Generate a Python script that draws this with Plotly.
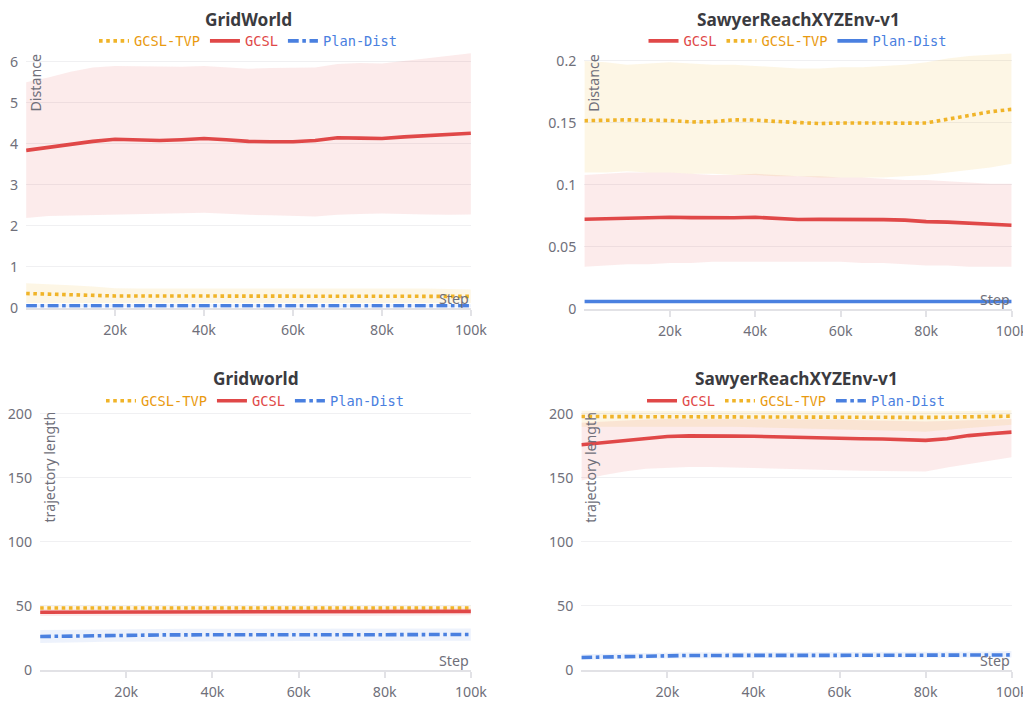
import plotly.graph_objects as go

# The page is photographed at ~0.985 scale with the default 8px body margin,
# so reference pixel p maps to figure pixel p / S - 8 (with a small vertical correction).
S = 0.985
PAGE_OFF = 8
W, H = 1036, 702
FS = 1 / S  # font compensation
Y_SHIFT, Y_SCALE = 4.2, 0.9967

steps = [0, 5000, 10000, 15000, 20000, 25000, 30000, 35000, 40000, 45000, 50000,
         55000, 60000, 65000, 70000, 75000, 80000, 85000, 90000, 95000, 100000]
xtick_vals = [20000, 40000, 60000, 80000, 100000]
xtick_text = ["20k", "40k", "60k", "80k", "100k"]

# ---- Panel A: GridWorld, Distance ----
a_gcsl = [3.84, 3.92, 3.99, 4.06, 4.11, 4.10, 4.08, 4.10, 4.13, 4.10, 4.06,
          4.05, 4.05, 4.08, 4.15, 4.14, 4.13, 4.17, 4.20, 4.22, 4.26]
a_gcsl_hi = [5.50, 5.62, 5.76, 5.86, 5.90, 5.89, 5.88, 5.88, 5.90, 5.87, 5.83,
             5.85, 5.85, 5.86, 5.95, 5.97, 5.96, 6.02, 6.08, 6.15, 6.21]
a_gcsl_lo = [2.19, 2.24, 2.26, 2.27, 2.28, 2.29, 2.30, 2.31, 2.32, 2.30, 2.27,
             2.26, 2.25, 2.23, 2.27, 2.29, 2.30, 2.29, 2.28, 2.27, 2.28]
a_tvp = [0.35, 0.33, 0.32, 0.30, 0.29, 0.29, 0.29, 0.29, 0.29, 0.29, 0.29,
         0.29, 0.29, 0.29, 0.29, 0.29, 0.29, 0.29, 0.29, 0.28, 0.28]
a_tvp_hi = [0.60, 0.58, 0.55, 0.52, 0.48, 0.47, 0.47, 0.48, 0.48, 0.47, 0.47,
            0.47, 0.48, 0.48, 0.47, 0.48, 0.48, 0.48, 0.47, 0.46, 0.45]
a_tvp_lo = [0.12, 0.12, 0.12, 0.12, 0.12, 0.12, 0.12, 0.12, 0.12, 0.12, 0.12,
            0.12, 0.12, 0.12, 0.12, 0.12, 0.12, 0.12, 0.12, 0.12, 0.12]
a_pd = [0.05, 0.05, 0.05, 0.05, 0.05, 0.05, 0.05, 0.05, 0.05, 0.05, 0.05,
        0.05, 0.05, 0.05, 0.05, 0.05, 0.05, 0.05, 0.05, 0.05, 0.05]
a_pd_hi = [0.09, 0.09, 0.09, 0.09, 0.09, 0.09, 0.09, 0.09, 0.09, 0.09, 0.09,
           0.09, 0.09, 0.09, 0.09, 0.09, 0.09, 0.09, 0.09, 0.09, 0.09]
a_pd_lo = [0.01, 0.01, 0.01, 0.01, 0.01, 0.01, 0.01, 0.01, 0.01, 0.01, 0.01,
           0.01, 0.01, 0.01, 0.01, 0.01, 0.01, 0.01, 0.01, 0.01, 0.01]

# ---- Panel B: SawyerReachXYZEnv-v1, Distance ----
b_gcsl = [0.0723, 0.0728, 0.0733, 0.0736, 0.0739, 0.0736, 0.0733, 0.0735, 0.0739, 0.0728, 0.0721,
          0.0722, 0.0723, 0.0721, 0.0720, 0.0716, 0.0704, 0.0700, 0.0690, 0.0680, 0.0674]
b_gcsl_hi = [0.108, 0.109, 0.110, 0.110, 0.110, 0.109, 0.108, 0.108, 0.109, 0.108, 0.107,
             0.107, 0.106, 0.106, 0.105, 0.104, 0.104, 0.103, 0.102, 0.101, 0.101]
b_gcsl_lo = [0.034, 0.035, 0.036, 0.036, 0.037, 0.037, 0.038, 0.038, 0.0385, 0.038, 0.038,
             0.038, 0.038, 0.037, 0.037, 0.036, 0.035, 0.035, 0.034, 0.034, 0.034]
b_tvp = [0.1518, 0.1522, 0.1525, 0.1522, 0.1520, 0.1508, 0.1510, 0.1525, 0.1523, 0.1512, 0.1500,
         0.1495, 0.1500, 0.1502, 0.1500, 0.1498, 0.1500, 0.1530, 0.1560, 0.1590, 0.1610]
b_tvp_hi = [0.200, 0.199, 0.197, 0.198, 0.199, 0.198, 0.197, 0.197, 0.196, 0.195, 0.194,
            0.194, 0.195, 0.195, 0.196, 0.197, 0.199, 0.202, 0.204, 0.205, 0.206]
b_tvp_lo = [0.110, 0.110, 0.111, 0.110, 0.110, 0.109, 0.109, 0.108, 0.108, 0.107, 0.107,
            0.106, 0.106, 0.106, 0.106, 0.107, 0.108, 0.110, 0.112, 0.114, 0.117]
b_pd = [0.006, 0.006, 0.006, 0.006, 0.006, 0.006, 0.006, 0.006, 0.006, 0.006, 0.006,
        0.006, 0.006, 0.006, 0.006, 0.006, 0.006, 0.006, 0.006, 0.006, 0.006]

# ---- Panel C: Gridworld, trajectory length ----
c_gcsl = [45.0, 45.0, 45.0, 45.0, 45.0, 45.0, 45.0, 45.0, 45.0, 45.0, 45.0,
          45.0, 45.0, 45.0, 45.0, 45.0, 45.0, 45.1, 45.2, 45.4, 45.6]
c_gcsl_hi = [47.5, 47.5, 47.5, 47.5, 47.5, 47.5, 47.5, 47.5, 47.5, 47.5, 47.5,
             47.5, 47.5, 47.5, 47.5, 47.5, 47.5, 47.6, 47.7, 47.9, 48.1]
c_gcsl_lo = [42.0, 42.0, 42.0, 42.0, 42.0, 42.0, 42.0, 42.0, 42.0, 42.0, 42.0,
             42.0, 42.0, 42.0, 42.0, 42.0, 42.0, 42.1, 42.2, 42.4, 42.6]
c_tvp = [48.3, 48.3, 48.3, 48.3, 48.3, 48.3, 48.3, 48.3, 48.3, 48.3, 48.3,
         48.3, 48.3, 48.3, 48.3, 48.3, 48.3, 48.3, 48.3, 48.3, 48.3]
c_tvp_hi = [50.0, 50.0, 50.0, 50.0, 50.0, 50.0, 50.0, 50.0, 50.0, 50.0, 50.0,
            50.0, 50.0, 50.0, 50.0, 50.0, 50.0, 50.0, 50.0, 50.0, 50.0]
c_tvp_lo = [47.0, 47.0, 47.0, 47.0, 47.0, 47.0, 47.0, 47.0, 47.0, 47.0, 47.0,
            47.0, 47.0, 47.0, 47.0, 47.0, 47.0, 47.0, 47.0, 47.0, 47.0]
c_pd = [26.0, 26.3, 26.6, 26.9, 27.1, 27.2, 27.3, 27.3, 27.4, 27.4, 27.4,
        27.4, 27.4, 27.4, 27.4, 27.4, 27.4, 27.4, 27.5, 27.5, 27.6]
c_pd_hi = [31.0, 31.2, 31.4, 31.6, 31.8, 31.9, 32.0, 32.0, 32.0, 32.0, 32.0,
           32.0, 32.0, 32.0, 32.0, 32.0, 32.0, 32.0, 32.1, 32.1, 32.2]
c_pd_lo = [21.0, 21.3, 21.6, 21.9, 22.1, 22.2, 22.3, 22.3, 22.4, 22.4, 22.4,
           22.4, 22.4, 22.4, 22.4, 22.4, 22.4, 22.4, 22.5, 22.5, 22.6]

# ---- Panel D: SawyerReachXYZEnv-v1, trajectory length ----
d_gcsl = [175.8, 177.5, 179.5, 181.0, 182.3, 182.8, 183.0, 182.6, 182.5, 182.0, 181.3,
          181.0, 180.8, 180.5, 180.3, 179.8, 179.3, 180.5, 183.0, 184.5, 185.7]
d_gcsl_hi = [193.0, 194.0, 195.0, 195.5, 196.0, 196.0, 196.0, 196.0, 196.0, 196.0, 195.5,
             195.5, 195.5, 195.0, 195.0, 194.5, 194.0, 194.5, 195.0, 195.5, 196.0]
d_gcsl_lo = [148.0, 152.0, 155.0, 157.0, 158.0, 158.5, 158.5, 158.0, 158.0, 157.5, 157.0,
             156.5, 156.0, 155.5, 155.5, 155.0, 155.0, 158.0, 161.0, 163.5, 166.0]
d_tvp = [197.9, 197.9, 197.8, 197.8, 197.8, 197.9, 197.9, 198.0, 197.9, 197.8, 197.8,
         197.7, 197.6, 197.5, 197.3, 197.2, 197.0, 197.3, 197.7, 198.0, 198.2]
d_tvp_hi = [202.5, 202.5, 202.4, 202.4, 202.4, 202.5, 202.5, 202.6, 202.5, 202.4, 202.4,
            202.3, 202.2, 202.1, 202.0, 201.9, 201.8, 202.0, 202.3, 202.6, 202.8]
d_tvp_lo = [190.0, 190.0, 189.5, 189.5, 189.5, 190.0, 190.0, 190.0, 189.5, 189.0, 189.0,
            188.5, 188.0, 187.5, 187.0, 186.5, 186.0, 187.5, 189.0, 190.5, 191.5]
d_pd = [9.6, 10.0, 10.4, 10.8, 11.0, 11.2, 11.2, 11.3, 11.3, 11.3, 11.3,
        11.3, 11.3, 11.3, 11.3, 11.3, 11.3, 11.3, 11.4, 11.5, 11.6]
d_pd_hi = [12.1, 12.5, 12.9, 13.3, 13.5, 13.7, 13.7, 13.8, 13.8, 13.8, 13.8,
           13.8, 13.8, 13.8, 13.8, 13.8, 13.8, 13.8, 13.9, 14.2, 14.6]
d_pd_lo = [7.6, 8.0, 8.4, 8.8, 9.0, 9.2, 9.2, 9.3, 9.3, 9.3, 9.3,
           9.3, 9.3, 9.3, 9.3, 9.3, 9.3, 9.3, 9.4, 9.5, 9.6]

RED = "#e04848"
YEL = "#f0b429"
BLU = "#4a80e0"
RED_F = "rgba(224,72,72,0.11)"
YEL_F = "rgba(240,180,41,0.12)"
BLU_F = "rgba(74,128,224,0.10)"
TXT_RED = "#e04848"
TXT_YEL = "#e99a10"
TXT_BLU = "#4a80e0"
TICK = "#6f6f7a"
MONO = "DejaVu Sans Mono"
SANS = "Noto Sans"


def px2x(p):
    return (p / S - PAGE_OFF) / W


def px2y(p):
    q = (p - Y_SHIFT) / Y_SCALE
    return 1 - (q / S - PAGE_OFF) / H


panels = [
    dict(ax="", x0=26, x1=471, yt=50, yb=308, yr=[0, 6.29],
         yv=[0, 1, 2, 3, 4, 5, 6], ytx=["0", "1", "2", "3", "4", "5", "6"],
         title="GridWorld", ytitle="Distance", leg="legend"),
    dict(ax="2", x0=584.5, x1=1012, yt=50, yb=309, yr=[0, 0.2089],
         yv=[0, 0.05, 0.1, 0.15, 0.2], ytx=["0", "0.05", "0.1", "0.15", "0.2"],
         title="SawyerReachXYZEnv-v1", ytitle="Distance", leg="legend2"),
    dict(ax="3", x0=40, x1=471, yt=407.6, yb=670, yr=[0, 205],
         yv=[0, 50, 100, 150, 200], ytx=["0", "50", "100", "150", "200"],
         title="Gridworld", ytitle="trajectory length", leg="legend3"),
    dict(ax="4", x0=581.5, x1=1012, yt=407.6, yb=670, yr=[0, 205],
         yv=[0, 50, 100, 150, 200], ytx=["0", "50", "100", "150", "200"],
         title="SawyerReachXYZEnv-v1", ytitle="trajectory length", leg="legend4"),
]

fig = go.Figure()


def band(ax, lo, hi, color):
    fig.add_trace(go.Scatter(
        x=steps + steps[::-1], y=hi + lo[::-1], fill="toself", fillcolor=color,
        line=dict(width=0), mode="lines", showlegend=False, hoverinfo="skip",
        xaxis="x" + ax, yaxis="y" + ax))


def line(ax, y, color, dash, name, tcolor, leg, width=3.6):
    fig.add_trace(go.Scatter(
        x=steps, y=y, mode="lines", line=dict(color=color, width=width, dash=dash),
        name="<span style='color:%s'>%s</span>" % (tcolor, name),
        legend=leg, xaxis="x" + ax, yaxis="y" + ax))


# Panel A
band("", a_gcsl_lo, a_gcsl_hi, RED_F)
band("", a_tvp_lo, a_tvp_hi, YEL_F)
band("", a_pd_lo, a_pd_hi, BLU_F)
line("", a_tvp, YEL, "dot", "GCSL-TVP", TXT_YEL, "legend")
line("", a_gcsl, RED, "solid", "GCSL", TXT_RED, "legend")
line("", a_pd, BLU, "dashdot", "Plan-Dist", TXT_BLU, "legend")

# Panel B
band("2", b_tvp_lo, b_tvp_hi, YEL_F)
band("2", b_gcsl_lo, b_gcsl_hi, RED_F)
line("2", b_gcsl, RED, "solid", "GCSL", TXT_RED, "legend2")
line("2", b_tvp, YEL, "dot", "GCSL-TVP", TXT_YEL, "legend2")
line("2", b_pd, BLU, "solid", "Plan-Dist", TXT_BLU, "legend2")

# Panel C
band("3", c_pd_lo, c_pd_hi, BLU_F)
band("3", c_gcsl_lo, c_gcsl_hi, RED_F)
band("3", c_tvp_lo, c_tvp_hi, YEL_F)
line("3", c_tvp, YEL, "dot", "GCSL-TVP", TXT_YEL, "legend3")
line("3", c_gcsl, RED, "solid", "GCSL", TXT_RED, "legend3")
line("3", c_pd, BLU, "dashdot", "Plan-Dist", TXT_BLU, "legend3")

# Panel D
band("4", d_gcsl_lo, d_gcsl_hi, RED_F)
band("4", d_tvp_lo, d_tvp_hi, YEL_F)
band("4", d_pd_lo, d_pd_hi, BLU_F)
line("4", d_gcsl, RED, "solid", "GCSL", TXT_RED, "legend4")
line("4", d_tvp, YEL, "dot", "GCSL-TVP", TXT_YEL, "legend4")
line("4", d_pd, BLU, "dashdot", "Plan-Dist", TXT_BLU, "legend4")

layout = dict(
    width=W, height=H, margin=dict(l=0, r=0, t=0, b=0),
    paper_bgcolor="white", plot_bgcolor="white",
    font=dict(family=SANS, color=TICK, size=13),
    annotations=[],
)

for p in panels:
    ax = p["ax"]
    xa = "xaxis" + ax
    ya = "yaxis" + ax
    layout[xa] = dict(
        domain=[px2x(p["x0"]), px2x(p["x1"])], range=[0, 100000],
        anchor="y" + ax, tickvals=xtick_vals, ticktext=xtick_text,
        showgrid=False, zeroline=False, showline=True, linecolor="#e2e2e6", linewidth=1.5,
        ticks="outside", ticklen=6, tickcolor="#e2e2e6", tickwidth=1.5,
        tickfont=dict(size=14 * FS, color=TICK, family=SANS), ticklabelstandoff=2,
    )
    layout[ya] = dict(
        domain=[px2y(p["yb"]), px2y(p["yt"])], range=p["yr"],
        anchor="x" + ax, tickvals=p["yv"], ticktext=p["ytx"],
        showgrid=True, gridcolor="#f0f0f2", gridwidth=1, zeroline=False, showline=False,
        ticks="", tickfont=dict(size=14 * FS, color=TICK, family=SANS), ticklabelstandoff=7,
    )
    cx = (p["x0"] + p["x1"]) / 2
    top = 20 if p["yt"] < 100 else 379
    leg_y = 41 if p["yt"] < 100 else 401
    layout["annotations"].append(dict(
        text="<b>%s</b>" % p["title"], x=px2x(cx), y=px2y(top), xref="paper", yref="paper",
        xanchor="center", yanchor="middle", showarrow=False,
        font=dict(size=17 * FS, color="#3b3b40", family=SANS)))
    layout["annotations"].append(dict(
        text=p["ytitle"], textangle=-90, x=px2x(p["x0"] - 2), y=px2y(p["yt"] + 2),
        xref="paper", yref="paper", xanchor="left", yanchor="top", showarrow=False,
        font=dict(size=14 * FS, color=TICK, family=SANS)))
    layout["annotations"].append(dict(
        text="Step", x=px2x(p["x1"]), y=px2y(p["yb"] + 2), xref="paper", yref="paper",
        xanchor="right", yanchor="bottom", showarrow=False,
        font=dict(size=14 * FS, color=TICK, family=SANS)))
    layout[p["leg"]] = dict(
        orientation="h", x=px2x(cx), y=px2y(leg_y), xanchor="center", yanchor="middle",
        bgcolor="rgba(0,0,0,0)", font=dict(family=MONO, size=13.5 * FS),
        itemwidth=30, tracegroupgap=0, traceorder="normal",
    )

fig.update_layout(**layout)
fig.write_html("out.html", config={"displayModeBar": False})
